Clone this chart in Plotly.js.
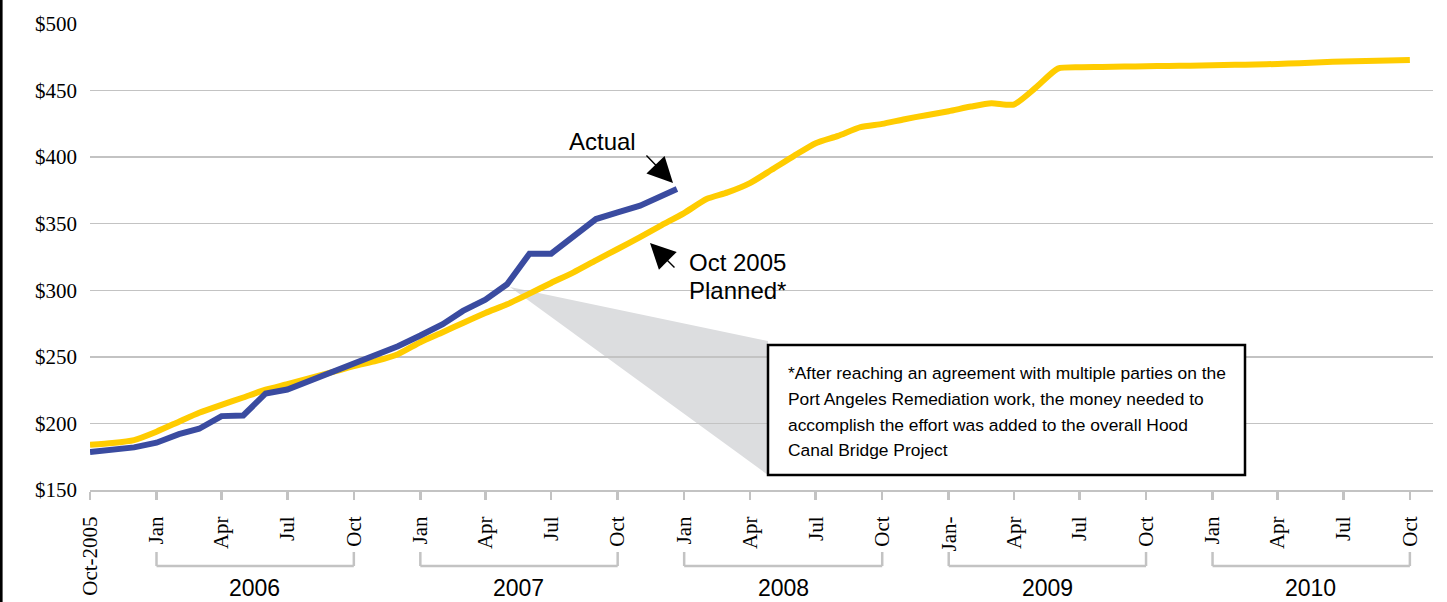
<!DOCTYPE html>
<html>
<head>
<meta charset="utf-8">
<script src="https://cdn.plot.ly/plotly-3.0.1.min.js"></script>
<style>html,body{margin:0;padding:0;background:#fff;}#chart{width:1447px;height:602px;}</style>
</head>
<body>
<div id="chart"></div>
<script>
// ---- data ----
const plannedDates = [
  '2005-10-01','2005-11-01','2005-12-01',
  '2006-01-01','2006-02-01','2006-03-01','2006-04-01','2006-05-01','2006-06-01','2006-07-01','2006-08-01','2006-09-01','2006-10-01','2006-11-01','2006-12-01',
  '2007-01-01','2007-02-01','2007-03-01','2007-04-01','2007-05-01','2007-06-01','2007-07-01','2007-08-01','2007-09-01','2007-10-01','2007-11-01','2007-12-01',
  '2008-01-01','2008-02-01','2008-03-01','2008-04-01','2008-05-01','2008-06-01','2008-07-01','2008-08-01','2008-09-01','2008-10-01','2008-11-01','2008-12-01',
  '2009-01-01','2009-02-01','2009-03-01','2009-04-01','2009-05-01','2009-06-01','2009-07-01','2009-08-01','2009-09-01','2009-10-01','2009-11-01','2009-12-01',
  '2010-01-01','2010-02-01','2010-03-01','2010-04-01','2010-05-01','2010-06-01','2010-07-01','2010-08-01','2010-09-01','2010-10-01'
];
const plannedValues = [
  184, 185.3, 187.5,
  193.8, 201.3, 208, 214, 219.5, 225.3, 229.5, 234, 238.5, 243, 247, 252,
  261, 268.5, 275.5, 283, 289.5, 297.5, 305.5, 313.5, 322.5, 331, 340, 349,
  358, 368.5, 373.5, 380.5, 390.5, 401, 410.5, 416, 422.5, 425, 428.5, 431.5,
  434.5, 438, 440.5, 439.5, 452, 466.5, 467.5, 467.7, 468, 468.3, 468.5, 468.7,
  469, 469.3, 469.6, 470, 470.6, 471.3, 471.8, 472.2, 472.6, 473
];
const actualDates = [
  '2005-10-01','2005-11-01','2005-12-01',
  '2006-01-01','2006-02-01','2006-03-01','2006-04-01','2006-05-01','2006-06-01','2006-07-01','2006-08-01','2006-09-01','2006-10-01','2006-11-01','2006-12-01',
  '2007-01-01','2007-02-01','2007-03-01','2007-04-01','2007-05-01','2007-06-01','2007-07-01','2007-08-01','2007-09-01','2007-10-01','2007-11-01','2007-12-22'
];
const actualValues = [
  178.5, 180, 182,
  185.5, 192, 196, 205.5, 206, 222.5, 225.5, 232, 238, 244, 250.5, 258,
  266, 274.5, 284.5, 293, 304.5, 327.5, 327.5, 340.5, 353.5, 358.5, 363.5, 376
];
const tickDates = ['2005-10-01','2006-01-01','2006-04-01','2006-07-01','2006-10-01','2007-01-01','2007-04-01','2007-07-01','2007-10-01',
  '2008-01-01','2008-04-01','2008-07-01','2008-10-01','2009-01-01','2009-04-01','2009-07-01','2009-10-01','2010-01-01','2010-04-01','2010-07-01','2010-10-01'];
const tickLabels = ['Oct-2005','Jan','Apr','Jul','Oct','Jan','Apr','Jul','Oct','Jan','Apr','Jul','Oct','Jan-','Apr','Jul','Oct','Jan','Apr','Jul','Oct'];
const years = ['2006','2007','2008','2009','2010'];
const yearStart = ['2006-01-01','2007-01-01','2008-01-01','2009-01-01','2010-01-01'];
const yearEnd = ['2006-10-01','2007-10-01','2008-10-01','2009-10-01','2010-10-01'];
const yearMid = ['2006-05-17','2007-05-17','2008-05-17','2009-05-17','2010-05-17'];
const noteLines = [
  '*After reaching an agreement with multiple parties on the',
  'Port Angeles Remediation work, the money needed to',
  'accomplish the effort was added to the overall Hood',
  'Canal Bridge Project'
];

// ---- layout helpers (pixel -> paper) ----
const L = 90, R = 14, T = 24, B = 112, W = 1447, H = 602;
const PW = W - L - R, PH = H - T - B;
const PX = p => (p - L) / PW;
const PY = p => (H - B - p) / PH;

const gray = '#c3c3c3';
const shapes = [];
// callout wedge
shapes.push({type:'path', xref:'paper', yref:'paper', layer:'below',
  path:`M ${PX(510)},${PY(287)} L ${PX(768)},${PY(341)} L ${PX(768)},${PY(475)} Z`,
  fillcolor:'#dcdddf', line:{width:0}});
// callout box
shapes.push({type:'rect', xref:'paper', yref:'paper', layer:'above',
  x0:PX(768), x1:PX(1245), y0:PY(345), y1:PY(475),
  fillcolor:'#ffffff', line:{color:'#000', width:2.5}});
// year brackets
years.forEach((y,i)=>{
  shapes.push({type:'line', xref:'x', yref:'paper', x0:yearStart[i], x1:yearStart[i], y0:PY(552), y1:PY(566), line:{color:gray,width:2.5}});
  shapes.push({type:'line', xref:'x', yref:'paper', x0:yearEnd[i], x1:yearEnd[i], y0:PY(552), y1:PY(566), line:{color:gray,width:2.5}});
  shapes.push({type:'line', xref:'x', yref:'paper', x0:yearStart[i], x1:yearEnd[i], y0:PY(566), y1:PY(566), line:{color:gray,width:2.5}});
});
// left border
shapes.push({type:'line', xref:'paper', yref:'paper', x0:PX(1.3), x1:PX(1.3), y0:PY(0), y1:PY(602), line:{color:'#000', width:2.6}});

const sans = 'Liberation Sans, Arial, sans-serif';
const serif = 'Liberation Serif, Times New Roman, serif';
const annotations = [];
years.forEach((y,i)=>{
  annotations.push({xref:'x', yref:'paper', x:yearMid[i], y:PY(588), text:y, showarrow:false,
    xanchor:'center', yanchor:'middle', font:{family:sans, size:23, color:'#000'}});
});
annotations.push({xref:'paper', yref:'paper', x:PX(602), y:PY(141), text:'Actual', showarrow:false,
  xanchor:'center', yanchor:'middle', font:{family:sans, size:24, color:'#000'}});
annotations.push({xref:'paper', yref:'paper', x:PX(737), y:PY(262), text:'Oct 2005', showarrow:false,
  xanchor:'center', yanchor:'middle', font:{family:sans, size:24, color:'#000'}});
annotations.push({xref:'paper', yref:'paper', x:PX(737), y:PY(291), text:'Planned*', showarrow:false,
  xanchor:'center', yanchor:'middle', font:{family:sans, size:24, color:'#000'}});
// arrows
annotations.push({xref:'paper', yref:'paper', x:PX(673), y:PY(183), ax:-28, ay:-29, text:'', showarrow:true,
  arrowhead:2, arrowsize:3.6, arrowwidth:1.4, arrowcolor:'#000', standoff:0});
annotations.push({xref:'paper', yref:'paper', x:PX(650), y:PY(243), ax:26, ay:26, text:'', showarrow:true,
  arrowhead:2, arrowsize:3.6, arrowwidth:1.4, arrowcolor:'#000', standoff:0});
// note text, one line each
const noteY = [373, 399, 424.5, 450];
noteLines.forEach((t,i)=>{
  annotations.push({xref:'paper', yref:'paper', x:PX(786), y:PY(noteY[i]), text:t, showarrow:false, align:'left',
    xanchor:'left', yanchor:'middle', font:{family:sans, size:17.4, color:'#000'}});
});

const traces = [
  {x:plannedDates, y:plannedValues, type:'scatter', mode:'lines', name:'Oct 2005 Planned*',
   line:{color:'#FFCC00', width:6, shape:'spline', smoothing:0.6}, hoverinfo:'x+y'},
  {x:actualDates, y:actualValues, type:'scatter', mode:'lines', name:'Actual',
   line:{color:'#3A4BA0', width:6}, hoverinfo:'x+y'}
];

const layout = {
  width:W, height:H,
  margin:{l:L, r:R, t:T, b:B, pad:0},
  paper_bgcolor:'#ffffff', plot_bgcolor:'rgba(0,0,0,0)',
  showlegend:false,
  xaxis:{type:'date', range:['2005-10-01','2010-11-02'], tickmode:'array', tickvals:tickDates, ticktext:tickLabels,
    tickangle:-90, ticks:'outside', ticklen:8, tickwidth:2.5, tickcolor:gray, ticklabelstandoff:8,
    showgrid:false, zeroline:false, showline:true, linecolor:gray, linewidth:2,
    tickfont:{family:serif, size:21, color:'#000'}, fixedrange:true},
  yaxis:{range:[150,500], tickmode:'linear', tick0:150, dtick:50, tickprefix:'$',
    showgrid:true, gridcolor:gray, gridwidth:1.5, zeroline:false, showline:false, ticks:'',
    ticklabelstandoff:12, tickfont:{family:serif, size:21, color:'#000'}, fixedrange:true},
  shapes:shapes, annotations:annotations
};

Plotly.newPlot('chart', traces, layout, {displayModeBar:false, staticPlot:true});
</script>
</body>
</html>
